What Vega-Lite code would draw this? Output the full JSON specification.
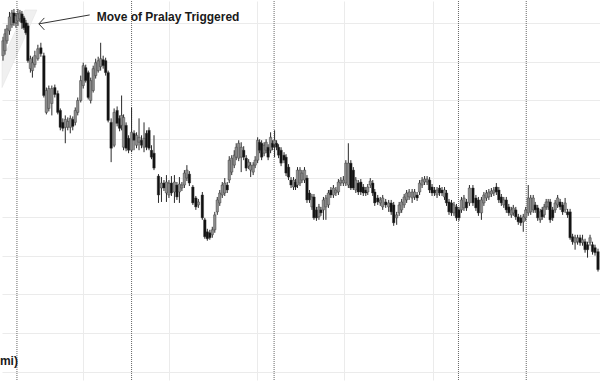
{
"$schema":"https://vega.github.io/schema/vega-lite/v6.json",
"width":600,"height":381,"autosize":{"type":"fit","contains":"padding"},"padding":0,"background":"white",
"config":{"view":{"stroke":null},"axis":{"labels":false,"ticks":false,"domain":false,"grid":true,"gridColor":"#ebebeb","gridWidth":1,"minExtent":0,"maxExtent":0,"titlePadding":0}},
"datasets":{
"candles":[
{"t":1,"o":345,"c":360,"h":364,"l":340},{"t":3,"o":350,"c":367,"h":372,"l":346},{"t":5,"o":360,"c":372,"h":376,"l":357},{"t":7.5,"o":370,"c":384,"h":389,"l":366},{"t":10,"o":376,"c":388,"h":391,"l":373},{"t":12,"o":388,"c":378,"h":392,"l":375},{"t":14,"o":378,"c":385,"h":388,"l":373},{"t":16,"o":380,"c":387,"h":392,"l":375},{"t":18,"o":382,"c":388,"h":391,"l":379},{"t":20,"o":387,"c":378,"h":390,"l":372},{"t":22,"o":383,"c":373,"h":385,"l":371},{"t":24,"o":378,"c":368,"h":381,"l":366},{"t":26,"o":375,"c":340,"h":378,"l":338},{"t":28.5,"o":332,"c":342,"h":345,"l":328},{"t":30.5,"o":330,"c":338,"h":344,"l":323},{"t":33,"o":336,"c":345,"h":350,"l":333},{"t":36,"o":342,"c":352,"h":356,"l":340},{"t":39,"o":353,"c":347,"h":358,"l":344},{"t":42,"o":345,"c":305,"h":348,"l":303},{"t":44.5,"o":288,"c":310,"h":313,"l":286},{"t":47,"o":292,"c":312,"h":315,"l":289},{"t":50,"o":297,"c":312,"h":315,"l":285},{"t":53,"o":313,"c":306,"h":316,"l":303},{"t":56,"o":307,"c":288,"h":310,"l":286},{"t":58.5,"o":290,"c":273,"h":292,"l":270},{"t":61,"o":278,"c":272,"h":282,"l":269},{"t":63.5,"o":273,"c":281,"h":285,"l":257},{"t":66,"o":273,"c":279,"h":283,"l":270},{"t":68.5,"o":273,"c":282,"h":285,"l":267},{"t":71,"o":281,"c":274,"h":284,"l":270},{"t":73.5,"o":278,"c":290,"h":293,"l":275},{"t":76,"o":288,"c":300,"h":303,"l":285},{"t":79,"o":300,"c":320,"h":325,"l":298},{"t":81.5,"o":315,"c":335,"h":338,"l":312},{"t":84,"o":333,"c":320,"h":336,"l":318},{"t":86.5,"o":328,"c":303,"h":330,"l":301},{"t":89,"o":300,"c":320,"h":323,"l":297},{"t":91.5,"o":310,"c":332,"h":335,"l":308},{"t":94,"o":325,"c":338,"h":342,"l":322},{"t":96.5,"o":330,"c":340,"h":344,"l":328},{"t":99,"o":334,"c":342,"h":358,"l":330},{"t":101.5,"o":341,"c":335,"h":345,"l":332},{"t":104,"o":340,"c":328,"h":343,"l":325},{"t":106.5,"o":328,"c":280,"h":330,"l":278},{"t":109.5,"o":278,"c":252,"h":282,"l":238},{"t":112.5,"o":255,"c":288,"h":292,"l":253},{"t":115.5,"o":290,"c":277,"h":294,"l":274},{"t":118,"o":282,"c":272,"h":285,"l":269},{"t":120,"o":275,"c":285,"h":305,"l":270},{"t":122,"o":253,"c":283,"h":286,"l":250},{"t":124.5,"o":275,"c":252,"h":278,"l":249},{"t":127,"o":262,"c":250,"h":265,"l":247},{"t":130,"o":250,"c":268,"h":293,"l":248},{"t":132.5,"o":267,"c":260,"h":270,"l":250},{"t":135,"o":255,"c":265,"h":268,"l":252},{"t":137.5,"o":258,"c":263,"h":282,"l":250},{"t":140,"o":260,"c":255,"h":265,"l":252},{"t":142.5,"o":253,"c":262,"h":278,"l":248},{"t":145,"o":267,"c":253,"h":270,"l":250},{"t":147.5,"o":270,"c":252,"h":273,"l":250},{"t":150,"o":250,"c":243,"h":255,"l":241},{"t":152.5,"o":247,"c":232,"h":265,"l":230},{"t":157,"o":224,"c":205,"h":226,"l":197},{"t":160,"o":212,"c":217,"h":223,"l":198},{"t":162.5,"o":217,"c":212,"h":220,"l":209},{"t":165,"o":207,"c":218,"h":225,"l":198},{"t":167.5,"o":205,"c":217,"h":220,"l":202},{"t":170,"o":217,"c":207,"h":224,"l":204},{"t":173,"o":208,"c":218,"h":225,"l":197},{"t":175.5,"o":215,"c":203,"h":218,"l":200},{"t":178,"o":208,"c":216,"h":223,"l":197},{"t":180.5,"o":212,"c":215,"h":218,"l":209},{"t":183,"o":215,"c":227,"h":230,"l":212},{"t":185.5,"o":222,"c":230,"h":235,"l":219},{"t":188,"o":226,"c":217,"h":229,"l":214},{"t":191.5,"o":213,"c":197,"h":215,"l":195},{"t":194.5,"o":202,"c":193,"h":204,"l":190},{"t":197,"o":195,"c":198,"h":201,"l":192},{"t":201,"o":205,"c":182,"h":208,"l":180},{"t":203.5,"o":180,"c":163,"h":182,"l":161},{"t":206,"o":168,"c":161,"h":171,"l":159},{"t":208.5,"o":167,"c":162,"h":170,"l":160},{"t":211,"o":165,"c":170,"h":173,"l":162},{"t":213.5,"o":170,"c":185,"h":188,"l":167},{"t":216,"o":188,"c":200,"h":203,"l":185},{"t":218.5,"o":197,"c":207,"h":210,"l":194},{"t":221,"o":205,"c":215,"h":218,"l":202},{"t":223.5,"o":207,"c":217,"h":222,"l":204},{"t":226,"o":215,"c":210,"h":218,"l":207},{"t":228,"o":220,"c":240,"h":244,"l":217},{"t":230.5,"o":228,"c":242,"h":245,"l":225},{"t":233,"o":235,"c":245,"h":250,"l":232},{"t":235,"o":243,"c":253,"h":257,"l":240},{"t":237.5,"o":242,"c":257,"h":260,"l":239},{"t":240,"o":243,"c":253,"h":258,"l":228},{"t":242.5,"o":250,"c":243,"h":254,"l":240},{"t":245,"o":242,"c":232,"h":245,"l":229},{"t":247.5,"o":234,"c":238,"h":241,"l":231},{"t":249.5,"o":230,"c":235,"h":238,"l":223},{"t":252,"o":228,"c":235,"h":238,"l":225},{"t":254,"o":235,"c":240,"h":244,"l":232},{"t":256.5,"o":240,"c":260,"h":263,"l":237},{"t":258.5,"o":258,"c":250,"h":261,"l":247},{"t":260.5,"o":257,"c":243,"h":260,"l":240},{"t":263,"o":247,"c":255,"h":258,"l":244},{"t":265,"o":250,"c":258,"h":261,"l":247},{"t":267,"o":253,"c":243,"h":256,"l":240},{"t":269.5,"o":250,"c":263,"h":268,"l":247},{"t":271.5,"o":257,"c":253,"h":260,"l":250},{"t":273.5,"o":256,"c":260,"h":270,"l":243},{"t":275.5,"o":257,"c":253,"h":260,"l":250},{"t":277.5,"o":253,"c":245,"h":256,"l":242},{"t":280,"o":250,"c":237,"h":253,"l":234},{"t":283,"o":245,"c":240,"h":248,"l":237},{"t":285,"o":243,"c":227,"h":246,"l":224},{"t":287.5,"o":233,"c":223,"h":236,"l":220},{"t":290,"o":220,"c":215,"h":223,"l":212},{"t":292.5,"o":213,"c":220,"h":223,"l":210},{"t":294.5,"o":218,"c":213,"h":221,"l":210},{"t":296.5,"o":215,"c":230,"h":233,"l":212},{"t":299,"o":217,"c":230,"h":233,"l":214},{"t":301,"o":220,"c":227,"h":230,"l":217},{"t":303.5,"o":220,"c":230,"h":233,"l":217},{"t":306,"o":222,"c":200,"h":225,"l":197},{"t":308.5,"o":207,"c":200,"h":210,"l":197},{"t":311,"o":193,"c":203,"h":206,"l":190},{"t":313,"o":203,"c":182,"h":206,"l":180},{"t":315.5,"o":190,"c":182,"h":193,"l":179},{"t":318,"o":183,"c":193,"h":196,"l":180},{"t":320,"o":190,"c":187,"h":193,"l":184},{"t":322.5,"o":190,"c":200,"h":203,"l":180},{"t":325,"o":193,"c":202,"h":205,"l":180},{"t":327.5,"o":195,"c":207,"h":210,"l":192},{"t":330,"o":210,"c":205,"h":213,"l":202},{"t":332.5,"o":205,"c":212,"h":215,"l":202},{"t":335,"o":207,"c":210,"h":213,"l":204},{"t":337.5,"o":208,"c":218,"h":221,"l":205},{"t":340,"o":217,"c":220,"h":223,"l":214},{"t":342.5,"o":217,"c":220,"h":224,"l":214},{"t":345,"o":217,"c":237,"h":240,"l":214},{"t":347.5,"o":215,"c":237,"h":257,"l":212},{"t":350,"o":237,"c":212,"h":240,"l":210},{"t":352.5,"o":230,"c":212,"h":233,"l":210},{"t":355,"o":210,"c":220,"h":223,"l":207},{"t":357.5,"o":217,"c":208,"h":220,"l":205},{"t":360,"o":218,"c":208,"h":221,"l":205},{"t":362.5,"o":213,"c":207,"h":216,"l":204},{"t":365,"o":210,"c":207,"h":213,"l":204},{"t":367,"o":208,"c":213,"h":216,"l":205},{"t":369.5,"o":215,"c":219,"h":222,"l":212},{"t":372,"o":217,"c":207,"h":220,"l":204},{"t":374,"o":208,"c":197,"h":211,"l":194},{"t":377,"o":202,"c":198,"h":205,"l":195},{"t":379.5,"o":197,"c":200,"h":203,"l":194},{"t":382,"o":193,"c":202,"h":205,"l":190},{"t":385,"o":198,"c":195,"h":201,"l":192},{"t":388,"o":193,"c":197,"h":200,"l":188},{"t":390.5,"o":197,"c":188,"h":200,"l":185},{"t":393,"o":195,"c":177,"h":198,"l":174},{"t":396,"o":182,"c":185,"h":188,"l":175},{"t":398.5,"o":187,"c":195,"h":198,"l":184},{"t":401,"o":190,"c":198,"h":201,"l":187},{"t":403.5,"o":195,"c":203,"h":206,"l":192},{"t":406,"o":200,"c":207,"h":210,"l":197},{"t":408.5,"o":203,"c":208,"h":211,"l":200},{"t":411.5,"o":202,"c":208,"h":211,"l":197},{"t":414,"o":203,"c":208,"h":211,"l":200},{"t":416.5,"o":205,"c":202,"h":208,"l":199},{"t":419,"o":208,"c":217,"h":220,"l":205},{"t":421.5,"o":215,"c":220,"h":223,"l":212},{"t":424,"o":218,"c":221,"h":224,"l":215},{"t":426.5,"o":218,"c":221,"h":224,"l":215},{"t":429,"o":220,"c":210,"h":223,"l":207},{"t":431.5,"o":213,"c":207,"h":216,"l":204},{"t":434,"o":210,"c":207,"h":213,"l":204},{"t":436.5,"o":205,"c":210,"h":213,"l":202},{"t":439,"o":212,"c":207,"h":215,"l":204},{"t":441.5,"o":210,"c":207,"h":213,"l":204},{"t":444,"o":203,"c":210,"h":213,"l":200},{"t":446,"o":207,"c":197,"h":210,"l":194},{"t":448.5,"o":198,"c":188,"h":201,"l":185},{"t":451,"o":197,"c":187,"h":200,"l":184},{"t":453.5,"o":187,"c":195,"h":198,"l":184},{"t":456,"o":193,"c":182,"h":196,"l":179},{"t":458.5,"o":190,"c":182,"h":193,"l":179},{"t":461,"o":190,"c":200,"h":203,"l":187},{"t":463.5,"o":192,"c":202,"h":205,"l":189},{"t":466,"o":198,"c":192,"h":201,"l":189},{"t":469,"o":197,"c":212,"h":215,"l":194},{"t":472.5,"o":212,"c":197,"h":215,"l":194},{"t":475.5,"o":202,"c":192,"h":205,"l":189},{"t":478,"o":200,"c":187,"h":203,"l":184},{"t":481,"o":187,"c":200,"h":203,"l":180},{"t":483.5,"o":197,"c":205,"h":208,"l":194},{"t":486,"o":202,"c":207,"h":210,"l":199},{"t":488.5,"o":203,"c":208,"h":211,"l":200},{"t":491,"o":206,"c":209,"h":212,"l":203},{"t":493.5,"o":207,"c":210,"h":213,"l":204},{"t":496,"o":213,"c":208,"h":217,"l":205},{"t":498.5,"o":210,"c":200,"h":213,"l":197},{"t":501,"o":203,"c":197,"h":206,"l":194},{"t":503.5,"o":195,"c":200,"h":203,"l":192},{"t":506,"o":200,"c":190,"h":203,"l":187},{"t":508.5,"o":193,"c":187,"h":196,"l":184},{"t":511,"o":185,"c":190,"h":193,"l":182},{"t":513,"o":187,"c":192,"h":195,"l":184},{"t":515.5,"o":190,"c":183,"h":193,"l":180},{"t":518,"o":183,"c":178,"h":186,"l":175},{"t":520.5,"o":182,"c":177,"h":185,"l":174},{"t":523,"o":178,"c":183,"h":186,"l":168},{"t":525.5,"o":182,"c":190,"h":193,"l":179},{"t":528,"o":187,"c":202,"h":215,"l":184},{"t":530.5,"o":188,"c":202,"h":205,"l":185},{"t":533,"o":190,"c":202,"h":205,"l":187},{"t":535,"o":195,"c":190,"h":198,"l":187},{"t":537.5,"o":192,"c":182,"h":195,"l":179},{"t":540,"o":180,"c":188,"h":191,"l":177},{"t":542,"o":190,"c":183,"h":193,"l":180},{"t":544,"o":185,"c":193,"h":196,"l":182},{"t":546,"o":193,"c":198,"h":201,"l":190},{"t":548,"o":193,"c":198,"h":201,"l":190},{"t":550,"o":198,"c":180,"h":201,"l":177},{"t":552.5,"o":190,"c":182,"h":193,"l":179},{"t":555,"o":190,"c":197,"h":200,"l":187},{"t":557.5,"o":195,"c":202,"h":205,"l":192},{"t":560,"o":198,"c":193,"h":201,"l":190},{"t":562.5,"o":195,"c":188,"h":198,"l":185},{"t":565,"o":190,"c":197,"h":202,"l":187},{"t":567.5,"o":188,"c":185,"h":191,"l":182},{"t":570,"o":188,"c":162,"h":191,"l":160},{"t":572.5,"o":163,"c":158,"h":166,"l":155},{"t":575,"o":157,"c":162,"h":165,"l":150},{"t":577.5,"o":158,"c":162,"h":165,"l":155},{"t":580,"o":162,"c":157,"h":165,"l":154},{"t":582.5,"o":157,"c":160,"h":165,"l":154},{"t":585,"o":158,"c":150,"h":161,"l":147},{"t":587.5,"o":155,"c":150,"h":158,"l":142},{"t":590,"o":157,"c":162,"h":165,"l":154},{"t":592.5,"o":155,"c":148,"h":158,"l":145},{"t":595,"o":152,"c":147,"h":155,"l":144},{"t":598,"o":148,"c":130,"h":151,"l":128}
]},
"layer":[
{"data":{"values":[{"t":0,"top":340,"bot":313},{"t":23,"top":391,"bot":364},{"t":35,"top":391,"bot":391}]},
 "mark":{"type":"area","color":"#f0f0f0","stroke":"#e0e0e0","strokeWidth":0.5},
 "encoding":{
  "x":{"field":"t","type":"quantitative","title":null,"scale":{"domain":[0,600],"nice":false,"zero":false,"padding":0},"axis":{"values":[81,168,256,343,432]}},
  "y":{"field":"top","type":"quantitative","title":null,"scale":{"domain":[19,400],"nice":false,"zero":false,"padding":0},"axis":{"values":[27,66,105,144,183,222,261,300,339,378]}},
  "y2":{"field":"bot"}}},
{"data":{"values":[{"d":15},{"d":130},{"d":273},{"d":458},{"d":526}]},
 "mark":{"type":"rule","color":"#666666","strokeWidth":1,"strokeDash":[1,1]},
 "encoding":{"x":{"field":"d","type":"quantitative","title":null}}},
{"data":{"name":"candles"},
 "mark":{"type":"rule","color":"#2a2a2a","strokeWidth":1},
 "encoding":{"x":{"field":"t","type":"quantitative","title":null},"y":{"field":"l","type":"quantitative","title":null},"y2":{"field":"h"}}},
{"data":{"name":"candles"},
 "mark":{"type":"bar","size":2.5,"stroke":"#333333","strokeWidth":0.4},
 "encoding":{"x":{"field":"t","type":"quantitative","title":null},"y":{"field":"o","type":"quantitative","title":null},"y2":{"field":"c"},
  "color":{"condition":{"test":"datum.c >= datum.o","value":"#8c8c8c"},"value":"#111111"}}},
{"data":{"values":[{"s":"a","k":1,"t":88,"p":386},{"s":"a","k":2,"t":37,"p":377},{"s":"b","k":1,"t":42.5,"p":383},{"s":"b","k":2,"t":37,"p":377},{"s":"b","k":3,"t":42.5,"p":371}]},
 "mark":{"type":"line","color":"#333333","strokeWidth":1},
 "encoding":{"x":{"field":"t","type":"quantitative","title":null},"y":{"field":"p","type":"quantitative","title":null},"detail":{"field":"s"},"order":{"field":"k"}}},
{"data":{"values":[{"label":"Move of Pralay Triggered","t":95,"p":384}]},
 "mark":{"type":"text","align":"left","baseline":"middle","font":"Liberation Sans","fontWeight":"bold","fontSize":12,"color":"#1a1a1a"},
 "encoding":{"x":{"field":"t","type":"quantitative","title":null},"y":{"field":"p","type":"quantitative","title":null},"text":{"field":"label"}}},
{"data":{"values":[{"label":"mi)","t":16,"p":38}]},
 "mark":{"type":"text","align":"right","baseline":"middle","font":"Liberation Sans","fontWeight":"bold","fontSize":12,"color":"#1a1a1a"},
 "encoding":{"x":{"field":"t","type":"quantitative","title":null},"y":{"field":"p","type":"quantitative","title":null},"text":{"field":"label"}}}
]
}
